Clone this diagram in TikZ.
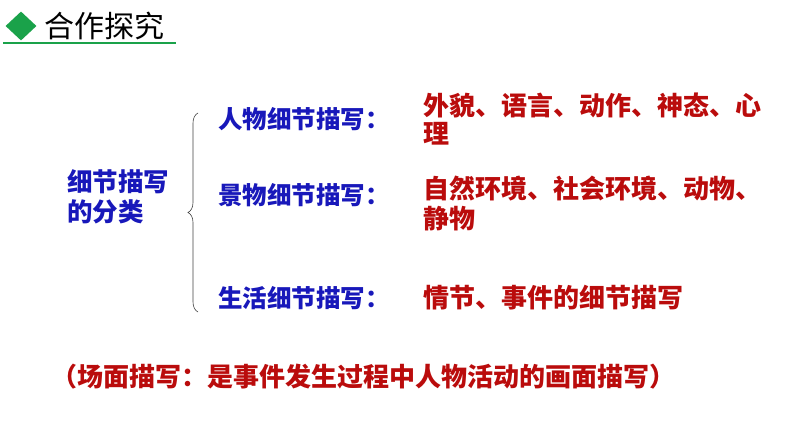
\documentclass[tikz,border=0pt]{standalone}
\usepackage{fontspec}
\newfontfamily\cjk[Kerning=Off]{Noto Sans CJK SC}
\usetikzlibrary{decorations.pathreplacing,shapes.geometric}
\definecolor{hdgreen}{RGB}{26,162,74}
\definecolor{lblblue}{RGB}{24,24,186}
\definecolor{txtred}{RGB}{186,12,12}
\tikzset{
  lbl/.style={anchor=west, inner sep=0pt, text=lblblue, font=\cjk\bfseries\fontsize{24.5}{30}\selectfont},
  item/.style={anchor=west, inner sep=0pt, align=left, text=txtred, font=\cjk\bfseries\fontsize{26}{28}\selectfont}
}

\begin{document}
\begin{tikzpicture}[x=1pt,y=-1pt]
                \useasboundingbox (0,0) rectangle (794,447);
                % Draw the heading with its diamond and underline
                \node[diamond, fill=hdgreen, minimum width=31pt, minimum height=29pt, inner sep=0pt] (mark) at (21,26) {};
                \node[anchor=west, inner sep=0pt, font=\cjk\fontsize{30}{30}\selectfont] (title) at (44,26) {合作探究};
                \draw[line width=2pt, hdgreen] (3,42.5) -- (176,42.5);

                % Draw the category and the brace
                \node[lbl, align=left, font=\cjk\bfseries\fontsize{25.5}{30}\selectfont] (cat) at (67,197) {细节描写\\的分类};
                \coordinate (btop) at (198,113);
                \coordinate (bbot) at (198,312);
                \draw[decorate, decoration={brace, amplitude=10pt}, line width=0.6pt, black!75] (bbot) -- (btop);

                % Draw the three kinds
                \node[lbl] (person) at (218,119) {人物细节描写：};
                \node[lbl] (scene) at (218,195) {景物细节描写：};
                \node[lbl] (life) at (218,298) {生活细节描写：};

                % Draw what each kind covers
                \node[item] (personx) at (423,119) {外貌、语言、动作、神态、心\\理};
                \node[item, font=\cjk\bfseries\fontsize{26}{30}\selectfont] (scenex) at (423,203) {自然环境、社会环境、动物、\\静物};
                \node[item] (lifex) at (423,298) {情节、事件的细节描写};

                % Add the note below
                \node[item] (note) at (51,377) {（场面描写：是事件发生过程中人物活动的画面描写）};
             \end{tikzpicture}
\end{document}
